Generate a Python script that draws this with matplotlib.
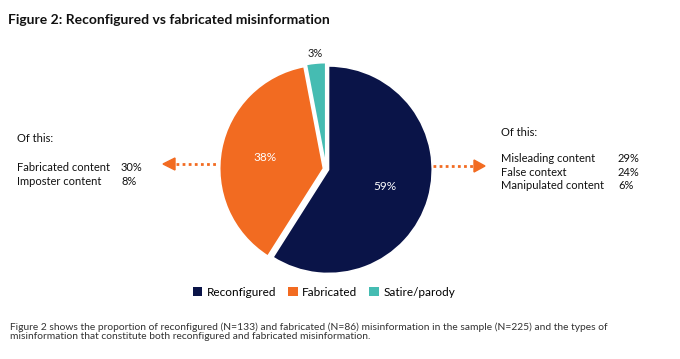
import matplotlib.pyplot as plt
from matplotlib.patches import Patch

categories = ['Reconfigured', 'Fabricated', 'Satire/parody']
shares = [59, 38, 3]
colors = ['#0a1448', '#f26b21', '#45bcb2']

left_items = ['Fabricated content', 'Imposter content']
left_values = ['30%', '8%']
right_items = ['Misleading content', 'False context', 'Manipulated content']
right_values = ['29%', '24%', '6%']

plt.rcParams['font.family'] = ['Lato', 'DejaVu Sans']

W, H = 680, 359
fig = plt.figure(figsize=(W / 100, H / 100), dpi=100)


def px(x, y):
    return x / W, 1 - y / H


# pie axes, centred on (326, 169) px
side = 220
cx, cy = 326, 169
ax = fig.add_axes([(cx - side / 2) / W, (H - cy - side / 2) / H, side / W, side / H])
wedges, texts, autotexts = ax.pie(
    shares, colors=colors, startangle=90, counterclock=False,
    explode=[0.025] * 3, autopct=lambda p: '%d%%' % round(p), pctdistance=0.57,
    wedgeprops=dict(edgecolor='white', linewidth=1.2),
    textprops=dict(fontsize=8.5))
for t in autotexts[:2]:
    t.set_color('white')
autotexts[2].set_color('#1a1a1a')
autotexts[2].set_fontsize(8)
x, y = autotexts[2].get_position()
autotexts[2].set_position((x / 0.57 * 1.07, y / 0.57 * 1.07))
ax.set_xlim(-1.06, 1.06)
ax.set_ylim(-1.06, 1.06)
ax.set_aspect('equal')
ax.axis('off')

fig.text(*px(8, 20), 'Figure 2: Reconfigured vs fabricated misinformation',
         fontsize=10, fontweight='bold', color='#111111', va='center')

# dotted arrows
orange = '#f26b21'
fig.add_artist(plt.Line2D([px(176, 0)[0], px(218, 0)[0]], [px(0, 164)[1]] * 2,
                          color=orange, lw=2, ls=(0, (1, 1.2))))
fig.add_artist(plt.Line2D([px(433, 0)[0], px(474, 0)[0]], [px(0, 166)[1]] * 2,
                          color=orange, lw=2, ls=(0, (1, 1.2))))
fig.add_artist(plt.Polygon([px(163, 164), px(175, 158), px(175, 170)],
                           closed=True, color=orange, transform=fig.transFigure))
fig.add_artist(plt.Polygon([px(485, 166), px(474, 160), px(474, 172)],
                           closed=True, color=orange, transform=fig.transFigure))

fs = 8
fig.text(*px(17, 139), 'Of this:', fontsize=fs, va='center', color='#111111')
for i, (name, val) in enumerate(zip(left_items, left_values)):
    yy = 167 + i * 14
    fig.text(*px(17, yy), name, fontsize=fs, va='center', color='#111111')
    fig.text(*px(121, yy), val, fontsize=fs, va='center', color='#111111')

fig.text(*px(501, 132), 'Of this:', fontsize=fs, va='center', color='#111111')
for i, (name, val) in enumerate(zip(right_items, right_values)):
    yy = 159 + i * 13.5
    fig.text(*px(501, yy), name, fontsize=fs, va='center', color='#111111')
    fig.text(*px(618, yy), val, fontsize=fs, va='center', color='#111111')

handles = [Patch(facecolor=c, edgecolor='none') for c in colors]
fig.legend(handles, categories, loc='center', bbox_to_anchor=px(324, 292),
           ncol=3, frameon=False, fontsize=8.5, handlelength=0.8,
           handleheight=0.8, handletextpad=0.4, columnspacing=1.0)

caption = ('Figure 2 shows the proportion of reconfigured (N=133) and fabricated (N=86) '
           'misinformation in the sample (N=225) and the types of\n'
           'misinformation that constitute both reconfigured and fabricated misinformation.')
fig.text(*px(10, 322), caption, fontsize=7.4, va='top', color='#333333', linespacing=1.0)

fig.savefig('out.png', dpi=100)
